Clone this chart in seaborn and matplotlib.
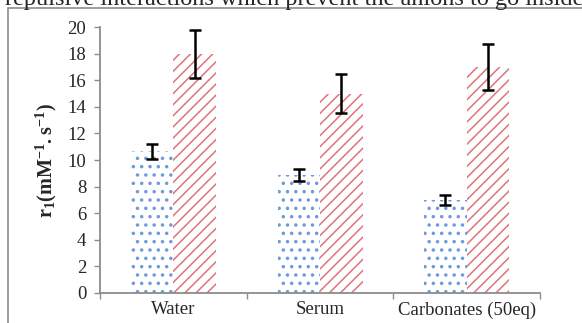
"""
Relaxivity r1 bar chart (water / serum / carbonates), two series with error bars.
"""
import numpy as np
import pandas as pd
import matplotlib
matplotlib.use("Agg")
import matplotlib.pyplot as plt
from matplotlib.patches import Rectangle
import seaborn as sns

# Data
conditions = ["Water", "Serum", "Carbonates (50eq)"]
series_names = ["Series 1", "Series 2"]
r1_series1 = [10.65, 8.9, 7.0]
r1_series2 = [18.0, 15.0, 17.0]
err_series1 = [0.55, 0.45, 0.35]
err_series2 = [1.8, 1.45, 1.7]
y_ticks = list(range(0, 21, 2))

# Style
sns.set_theme(style="ticks")
plt.rcParams['font.family'] = ['Liberation Serif', 'DejaVu Serif']
plt.rcParams['mathtext.fontset'] = 'custom'
plt.rcParams['mathtext.rm'] = 'Liberation Serif'
plt.rcParams['mathtext.bf'] = 'Liberation Serif:bold'
plt.rcParams['hatch.linewidth'] = 1.1

df = pd.DataFrame({
    "condition": conditions * 2,
    "series": [series_names[0]] * 3 + [series_names[1]] * 3,
    "r1": r1_series1 + r1_series2,
    "err": err_series1 + err_series2,
})

fig = plt.figure(figsize=(5.82, 3.23), dpi=100)
ax = fig.add_axes([0.172, 0.093, 0.756, 0.823])

sns.barplot(data=df, x="condition", y="r1", hue="series", order=conditions,
            hue_order=series_names, errorbar=None, width=0.58, ax=ax,
            legend=False)

# hatching: blue dots and red stripes
styles = [("#6d9bdc", "..", 1.3), ("#dc7478", "///", 1.1)]
for container, (col, hatch, hlw) in zip(ax.containers, styles):
    for bar in container:
        bar.set_facecolor("white")
        bar.set_edgecolor(col)
        bar.set_hatch(hatch)
        bar.set_linewidth(0)
        if hasattr(bar, "set_hatch_linewidth"):
            bar.set_hatch_linewidth(hlw)

# error bars at bar centres
for container, s in zip(ax.containers, series_names):
    sub = df[df["series"] == s].set_index("condition").loc[conditions]
    xs = [b.get_x() + b.get_width() / 2 for b in container]
    ax.errorbar(xs, sub["r1"], yerr=sub["err"], fmt="none", ecolor="black",
                elinewidth=1.8, capsize=4.5, capthick=1.8)

ax.set_ylim(0, 20)
ax.set_yticks(y_ticks)
ax.set_xlim(-0.5, 2.5)
ax.set_xlabel("")
ax.set_ylabel(r"$\mathbf{r_1(mM^{-1}.s^{-1})}$", fontsize=14.5, labelpad=6)

# ticks at category boundaries on x
ax.set_xticks(np.arange(-0.5, 3, 1), minor=True)
ax.tick_params(axis="x", which="major", length=0, labelsize=13.5, pad=6)
ax.tick_params(axis="x", which="minor", length=4, color="#8c8c8c", width=1)
ax.tick_params(axis="y", length=4, color="#8c8c8c", width=1, labelsize=13.5, pad=6)

for side in ["top", "right"]:
    ax.spines[side].set_visible(False)
for side in ["left", "bottom"]:
    ax.spines[side].set_color("#8c8c8c")
    ax.spines[side].set_linewidth(1.3)

# page context: chart frame and the clipped text line above it
fig.patches.append(Rectangle((8 / 582, -0.02), 1.0, 1 - 8 / 323 + 0.02,
                             transform=fig.transFigure, fill=False,
                             edgecolor="#8c8c8c", linewidth=1.2))
fig.text(5 / 582, 1 - 5 / 323, "repulsive interactions which prevent the anions to go inside",
         fontsize=17.5, va="baseline", ha="left")

fig.savefig("out.png", dpi=100)
